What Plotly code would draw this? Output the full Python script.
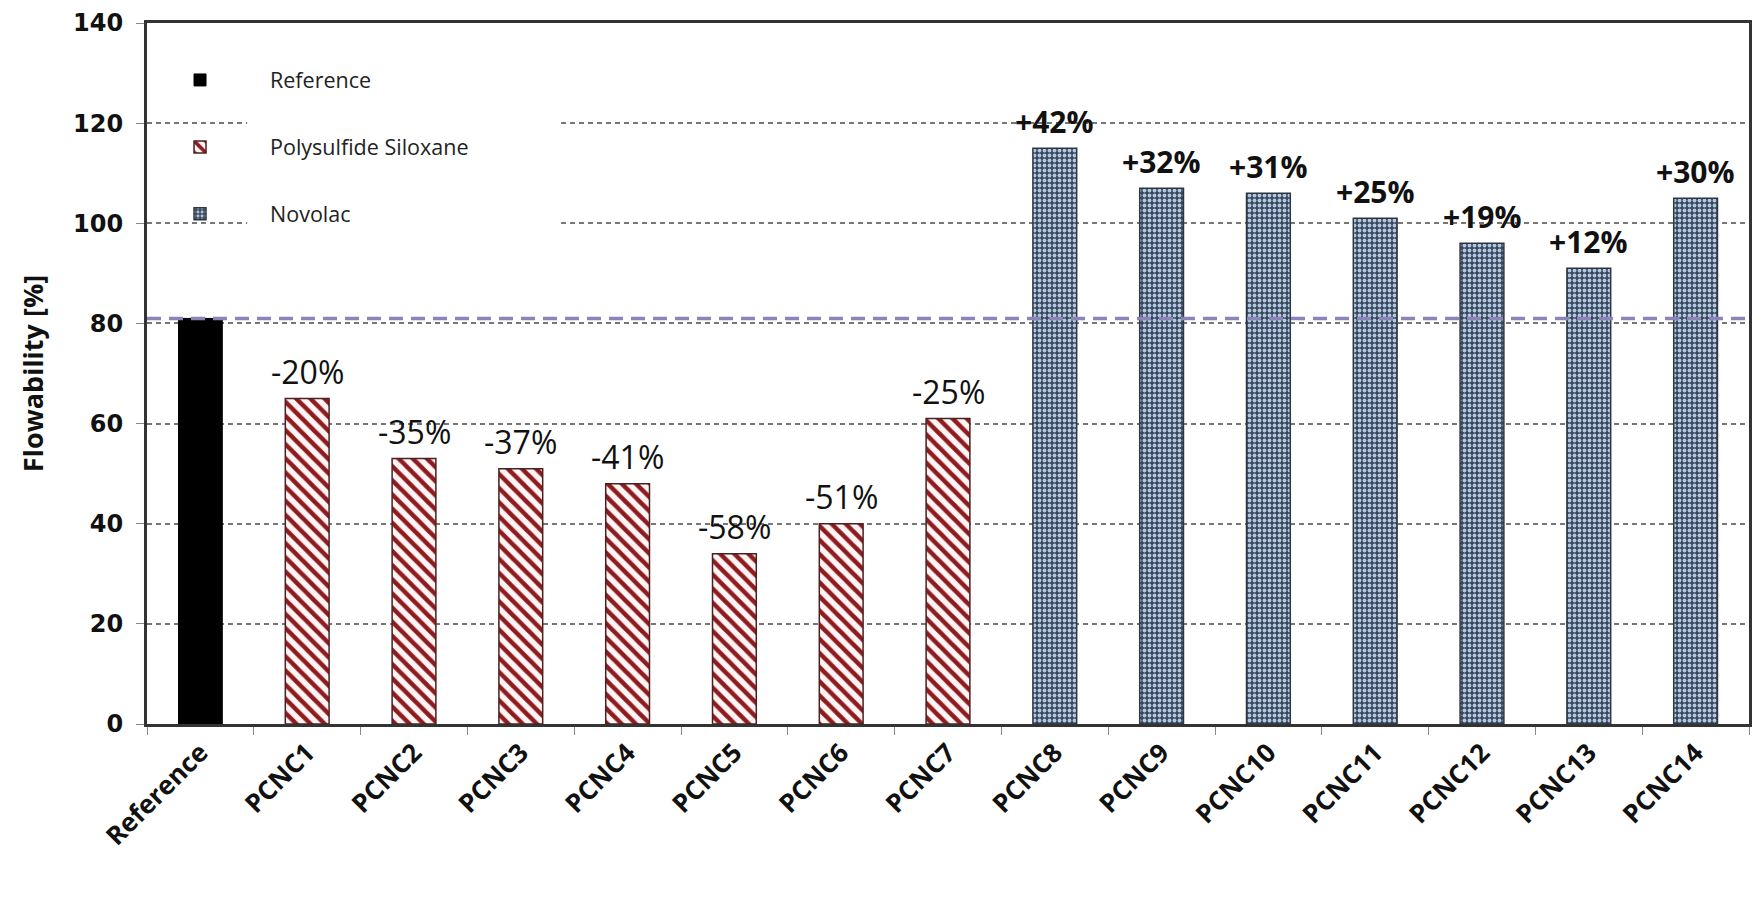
import plotly.graph_objects as go

# Flowability of the reference and the PCNC formulations
categories = ["Reference", "PCNC1", "PCNC2", "PCNC3", "PCNC4", "PCNC5", "PCNC6", "PCNC7",
              "PCNC8", "PCNC9", "PCNC10", "PCNC11", "PCNC12", "PCNC13", "PCNC14"]
reference_value = [81]
polysulfide_names = ["PCNC1", "PCNC2", "PCNC3", "PCNC4", "PCNC5", "PCNC6", "PCNC7"]
polysulfide_values = [65, 53, 51, 48, 34, 40, 61]
novolac_names = ["PCNC8", "PCNC9", "PCNC10", "PCNC11", "PCNC12", "PCNC13", "PCNC14"]
novolac_values = [115, 107, 106, 101, 96, 91, 105]
y_ticks = [0, 20, 40, 60, 80, 100, 120, 140]

ref = reference_value[0]
label_font = "Open Sans"

fig = go.Figure()

fig.add_trace(go.Bar(
    x=["Reference"], y=reference_value, name="Reference",
    marker=dict(color="black", line=dict(color="black", width=1)),
    legendgroup="a",
))
fig.add_trace(go.Bar(
    x=polysulfide_names, y=polysulfide_values, name="Polysulfide Siloxane",
    marker=dict(
        color="white",
        line=dict(color="#4a2020", width=1.5),
        pattern=dict(shape="\\", fgcolor="#8e1b1e", bgcolor="#fff4f4",
                     size=10, solidity=0.45, fillmode="replace"),
    ),
    legendgroup="b",
))
fig.add_trace(go.Bar(
    x=novolac_names, y=novolac_values, name="Novolac",
    marker=dict(
        color="#4a5a6e",
        line=dict(color="#2e3642", width=1.5),
        pattern=dict(shape=".", fgcolor="#b0c8e3", bgcolor="#3a4758",
                     size=5, solidity=0.45, fillmode="replace"),
    ),
    legendgroup="c",
))

# Percentage change relative to the reference, written above each bar
annotations = []
for names, values in ((polysulfide_names, polysulfide_values), (novolac_names, novolac_values)):
    for n, v in zip(names, values):
        pct = round((v / ref - 1) * 100)
        txt = f"+{pct}%" if pct > 0 else f"{pct}%"
        annotations.append(dict(
            x=n, y=v, xref="x", yref="y", text=txt, showarrow=False,
            yanchor="bottom", yshift=4,
            font=dict(family=label_font, size=30 if pct > 0 else 32, color="#111",
                      weight="bold" if pct > 0 else "normal"),
        ))

# Reference level line
fig.add_shape(type="line", xref="paper", yref="y", x0=0, x1=1, y0=ref, y1=ref,
              line=dict(color="#8c84b8", width=3.5, dash="14px,8px"), layer="above")

# Blank panel behind the legend text (above the grid, below the bars);
# x in category-index units
n_cat = len(categories)
fig.add_shape(type="rect", xref="x", yref="y",
              x0=-0.5 + 0.0625 * n_cat, x1=-0.5 + 0.2585 * n_cat, y0=92, y1=128,
              fillcolor="white", line=dict(width=0), layer="between")

fig.update_layout(
    width=1761, height=905,
    margin=dict(l=147, r=9, t=21, b=181),
    plot_bgcolor="white", paper_bgcolor="white",
    bargap=0.59,
    barmode="overlay",
    showlegend=True,
    legend=dict(
        x=-0.0106, y=0.948, xanchor="left", yanchor="top",
        bgcolor="rgba(0,0,0,0)",
        font=dict(family=label_font, size=21.5, color="#222"),
        tracegroupgap=36, itemwidth=130,
    ),
    annotations=annotations,
    xaxis=dict(
        categoryorder="array", categoryarray=categories,
        range=[-0.5, n_cat - 0.5],
        tickangle=-45, tickson="boundaries", ticks="outside", ticklen=8,
        tickcolor="#888", tickwidth=1,
        tickfont=dict(family=label_font, size=26, color="#111", weight="bold"),
        showline=True, linecolor="#333", linewidth=3, mirror=True,
        showgrid=False,
    ),
    yaxis=dict(
        range=[0, 140], tickvals=y_ticks, ticks="outside", ticklen=8,
        tickcolor="#888", tickwidth=1,
        tickfont=dict(family="DejaVu Sans", size=24, color="#111", weight="bold"),
        showline=True, linecolor="#333", linewidth=3, mirror=True,
        showgrid=True, gridcolor="#777", gridwidth=1.5, griddash="5px,4px",
        zeroline=False,
        title=dict(text="Flowability [%]", standoff=22,
                   font=dict(family=label_font, size=27, color="#111", weight="bold")),
        ticklabelstandoff=8,
    ),
)

fig.write_html("out.html")
